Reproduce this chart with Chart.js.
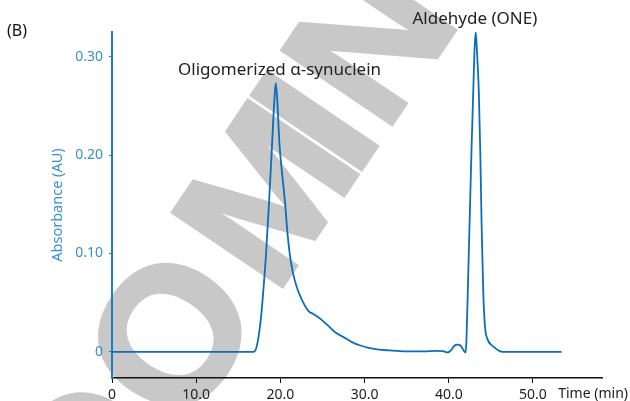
<!DOCTYPE html>
<html lang="en">
<head>
    <meta charset="UTF-8">
    <title>Chromatogram (B)</title>
    <script src="https://cdn.jsdelivr.net/npm/chart.js@4.4.1/dist/chart.umd.min.js"></script>
    <style>
        body {
            margin: 0;
            background: #fff;
        }

        .chart-box {
            position: relative;
            width: 630px;
            height: 401px;
        }
    </style>
</head>
<body>
<div class="chart-box">
    <canvas id="chromChart"></canvas>
</div>

<script>
    // elution time (min) and absorbance (AU)
    const times = [
        0, 5, 10, 15, 16.8, 17.1, 17.4, 17.7, 18.0, 18.3, 18.65, 18.95, 19.15, 19.3, 19.45,
        19.6, 19.75, 19.9, 20.16, 20.56, 20.85, 21.15, 21.5, 21.94, 22.5, 23.3, 24.0, 24.7,
        25.5, 26.5, 27.5, 28.5, 29.5, 30.5, 31.5, 33, 35, 37, 38.5, 39.3, 39.9, 40.3, 40.7,
        41.0, 41.4, 41.8, 42.0, 42.1, 42.3, 42.5, 42.7, 42.9, 43.05, 43.2, 43.35, 43.57,
        43.75, 43.9, 44.1, 44.3, 44.6, 45.1, 45.5, 46.0, 46.4, 48, 50, 53.4
    ];
    const absorbance = [
        0, 0, 0, 0, 0, 0.003, 0.015, 0.035, 0.065, 0.1, 0.152, 0.2, 0.235, 0.258, 0.273,
        0.26, 0.235, 0.21, 0.185, 0.151, 0.12, 0.097, 0.08, 0.066, 0.054, 0.042, 0.038, 0.034,
        0.028, 0.02, 0.015, 0.01, 0.0065, 0.004, 0.0025, 0.0015, 0.0006, 0.0005, 0.001, 0.0008, -0.0006, 0.002, 0.0065,
        0.0075, 0.0065, 0.001, -0.0006, 0.012, 0.075, 0.14, 0.205, 0.262, 0.305, 0.325, 0.305, 0.264,
        0.2, 0.129, 0.06, 0.026, 0.013, 0.0068, 0.004, 0.001, 0, 0, 0, 0
    ];

    const xTicks = [0, 10, 20, 30, 40, 50];
    const xTickLabels = ['0', '10.0', '20.0', '30.0', '40.0', '50.0'];
    const yTicks = [0, 0.1, 0.2, 0.3];
    const yTickLabels = ['0', '0.10', '0.20', '0.30'];

    const peakNames = ['Oligomerized α-synuclein', 'Aldehyde (ONE)'];
    const peakTimes = [19.9, 43.1];

    const blue = '#0a6ebd';
    const axisBlue = '#1f7cc2';
    const labelBlue = '#3a8fd0';
    const font = '"Noto Sans", "DejaVu Sans", sans-serif';

    // grey watermark behind the plot
    const watermark = {
        id: 'watermark',
        beforeDraw(chart) {
            const ctx = chart.ctx;
            const size = 192;
            const letters = [['D', -150], ['O', 0], ['M', 170], ['I', 258], ['N', 355]];
            ctx.save();
            ctx.translate(168, 333);
            ctx.rotate(-56 * Math.PI / 180);
            ctx.font = 'bold ' + size + 'px "Liberation Sans", Arial, sans-serif';
            ctx.fillStyle = '#c8c8c8';
            ctx.strokeStyle = '#c8c8c8';
            ctx.lineWidth = 4;
            ctx.lineJoin = 'miter';
            ctx.textAlign = 'center';
            ctx.textBaseline = 'alphabetic';
            letters.forEach(function (l) {
                ctx.fillText(l[0], l[1], size * 0.358);
                ctx.strokeText(l[0], l[1], size * 0.358);
            });
            ctx.restore();
        }
    };

    // panel letter, axis titles and peak names
    const labels = {
        id: 'labels',
        afterDraw(chart) {
            const ctx = chart.ctx;
            const area = chart.chartArea;
            const xs = chart.scales.x;
            const ys = chart.scales.y;
            ctx.save();

            ctx.fillStyle = '#111';
            ctx.font = '16px ' + font;
            ctx.textAlign = 'left';
            ctx.textBaseline = 'middle';
            ctx.fillText('(B)', 7, 31);

            ctx.font = '14px ' + font;
            ctx.textAlign = 'right';
            ctx.fillStyle = '#222';
            ctx.fillText('Time (min)', 628, area.bottom + 16);

            ctx.save();
            ctx.font = '14.5px ' + font;
            ctx.translate(58, (area.top + area.bottom) / 2);
            ctx.rotate(-Math.PI / 2);
            ctx.textAlign = 'center';
            ctx.fillStyle = labelBlue;
            ctx.fillText('Absorbance (AU)', 0, 0);
            ctx.restore();

            ctx.font = '17px ' + font;
            ctx.textAlign = 'center';
            ctx.textBaseline = 'alphabetic';
            ctx.fillStyle = '#222';
            peakNames.forEach(function (name, i) {
                let top = 0;
                times.forEach(function (t, j) {
                    if (Math.abs(t - peakTimes[i]) < 1 && absorbance[j] > top) top = absorbance[j];
                });
                ctx.fillText(name, xs.getPixelForValue(peakTimes[i]), ys.getPixelForValue(top) - 8);
            });
            ctx.restore();
        }
    };

    const chromChart = new Chart(
        document.getElementById('chromChart'),
        {
            type: 'line',
            data: {
                datasets: [{
                    data: times.map(function (t, i) { return {x: t, y: absorbance[i]}; }),
                    borderColor: blue,
                    borderWidth: 1.8,
                    pointRadius: 0,
                    cubicInterpolationMode: 'monotone',
                    fill: false
                }]
            },
            options: {
                responsive: true,
                maintainAspectRatio: false,
                animation: false,
                layout: {
                    padding: {left: 0, right: 28, top: 32, bottom: 0}
                },
                plugins: {
                    legend: {display: false},
                    tooltip: {enabled: false}
                },
                scales: {
                    x: {
                        type: 'linear',
                        min: 0,
                        max: 58.2,
                        afterFit: function (scale) { scale.height = 23; },
                        afterBuildTicks: function (scale) {
                            scale.ticks = xTicks.map(function (v) { return {value: v}; });
                        },
                        ticks: {
                            color: '#222',
                            padding: 4,
                            maxRotation: 0,
                            font: {family: font, size: 14},
                            callback: function (v, i) { return xTickLabels[i]; }
                        },
                        grid: {
                            drawOnChartArea: false,
                            tickLength: 5,
                            tickColor: '#111'
                        },
                        border: {color: '#111', width: 1.5}
                    },
                    y: {
                        min: -0.0265,
                        max: 0.325,
                        afterFit: function (scale) { scale.width = 112; },
                        afterBuildTicks: function (scale) {
                            scale.ticks = yTicks.map(function (v) { return {value: v}; });
                        },
                        ticks: {
                            color: labelBlue,
                            padding: 6,
                            font: {family: font, size: 14},
                            callback: function (v, i) { return yTickLabels[i]; }
                        },
                        grid: {
                            drawOnChartArea: false,
                            tickLength: 3,
                            tickColor: axisBlue
                        },
                        border: {color: axisBlue, width: 2}
                    }
                }
            },
            plugins: [watermark, labels]
        }
    );
</script>
</body>
</html>
